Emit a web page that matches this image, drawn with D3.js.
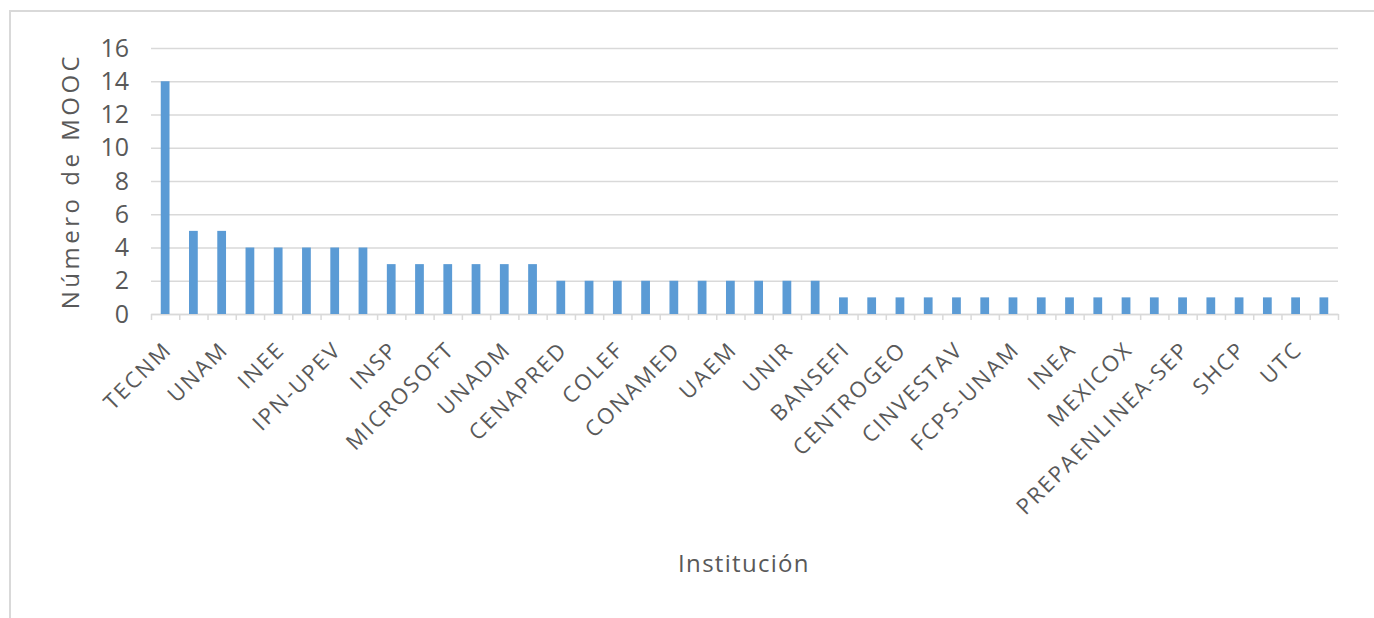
<!DOCTYPE html>
<html>
<head>
<meta charset="utf-8">
<script src="https://cdn.jsdelivr.net/npm/d3@7"></script>
<style>
  body { margin: 0; background: #fff; }
  text { font-family: "Open Sans", sans-serif; fill: #595959; }
</style>
</head>
<body>
<div id="chart"></div>
<script>
// only every other institution is labelled in the original chart
var institutions = ["TECNM", "", "UNAM", "", "INEE", "", "IPN-UPEV", "", "INSP", "", "MICROSOFT", "",
    "UNADM", "", "CENAPRED", "", "COLEF", "", "CONAMED", "", "UAEM", "", "UNIR", "", "BANSEFI", "",
    "CENTROGEO", "", "CINVESTAV", "", "FCPS-UNAM", "", "INEA", "", "MEXICOX", "", "PREPAENLINEA-SEP", "",
    "SHCP", "", "UTC", ""];
var moocs = [14, 5, 5, 4, 4, 4, 4, 4, 3, 3, 3, 3, 3, 3, 2, 2, 2, 2, 2, 2, 2, 2, 2, 2,
    1, 1, 1, 1, 1, 1, 1, 1, 1, 1, 1, 1, 1, 1, 1, 1, 1, 1];
var yTicks = [0, 2, 4, 6, 8, 10, 12, 14, 16];

var width = 1374, height = 618;
var margin = {top: 48, right: 1338, bottom: 314, left: 151};

var svg = d3.select("#chart").append("svg")
    .attr("width", width)
    .attr("height", height);

// outer frame (only top and left edges visible in the picture)
svg.append("rect")
    .attr("x", 10).attr("y", 11)
    .attr("width", width + 20).attr("height", height + 20)
    .attr("fill", "none")
    .attr("stroke", "#d9d9d9")
    .attr("stroke-width", 2);

var idx = d3.range(moocs.length);

var x = d3.scaleBand()
    .domain(idx)
    .range([margin.left, margin.right])
    .paddingInner(0.69)
    .paddingOuter(0.345);

var xEdge = d3.scaleLinear()
    .domain([0, moocs.length])
    .range([margin.left, margin.right]);

var y = d3.scaleLinear()
    .domain([0, 16])
    .range([margin.bottom, margin.top]);

// gridlines + y labels
svg.append("g")
    .attr("class", "axis axis-y")
    .attr("transform", "translate(" + margin.left + ",0)")
    .call(d3.axisLeft(y).tickValues(yTicks).tickSizeInner(-(margin.right - margin.left)).tickSizeOuter(0).tickPadding(22))
    .call(function(g) {
      g.select(".domain").remove();
      g.selectAll(".tick line").attr("stroke", "#d9d9d9").attr("stroke-width", 1.5);
      g.selectAll(".tick text").style("font-size", "25px").attr("fill", "#595959");
    });

// x axis line with ticks on category boundaries
svg.append("g")
    .attr("class", "axis axis-x")
    .attr("transform", "translate(0," + margin.bottom + ")")
    .call(d3.axisBottom(xEdge).tickValues(d3.range(moocs.length + 1)).tickFormat("").tickSizeInner(6).tickSizeOuter(0))
    .call(function(g) {
      g.select(".domain").attr("stroke", "#d9d9d9").attr("stroke-width", 1.5);
      g.selectAll(".tick line").attr("stroke", "#d9d9d9").attr("stroke-width", 1.5);
    });

svg.selectAll(".bar")
    .data(moocs)
  .enter().append("rect")
    .attr("class", "bar")
    .attr("x", function(d, i) { return x(i); })
    .attr("width", x.bandwidth())
    .attr("y", function(d) { return y(d); })
    .attr("height", function(d) { return y(0) - y(d); })
    .attr("fill", "#5b9bd5");

// rotated category labels
svg.append("g").selectAll("text")
    .data(institutions)
  .enter().append("text")
    .attr("transform", function(d, i) {
      return "translate(" + (x(i) + x.bandwidth() / 2 + 8) + "," + (margin.bottom + 37) + ") rotate(-45)";
    })
    .attr("text-anchor", "end")
    .style("font-size", "22px")
    .style("letter-spacing", "2.1px")
    .text(function(d) { return d; });

svg.append("text")
    .attr("x", 744)
    .attr("y", 572)
    .attr("text-anchor", "middle")
    .style("font-size", "24px")
    .style("letter-spacing", "1.3px")
    .text("Institución");

svg.append("text")
    .attr("transform", "translate(79,181) rotate(-90)")
    .attr("text-anchor", "middle")
    .style("font-size", "24px")
    .style("letter-spacing", "3.5px")
    .text("Número de  MOOC");
</script>
</body>
</html>
